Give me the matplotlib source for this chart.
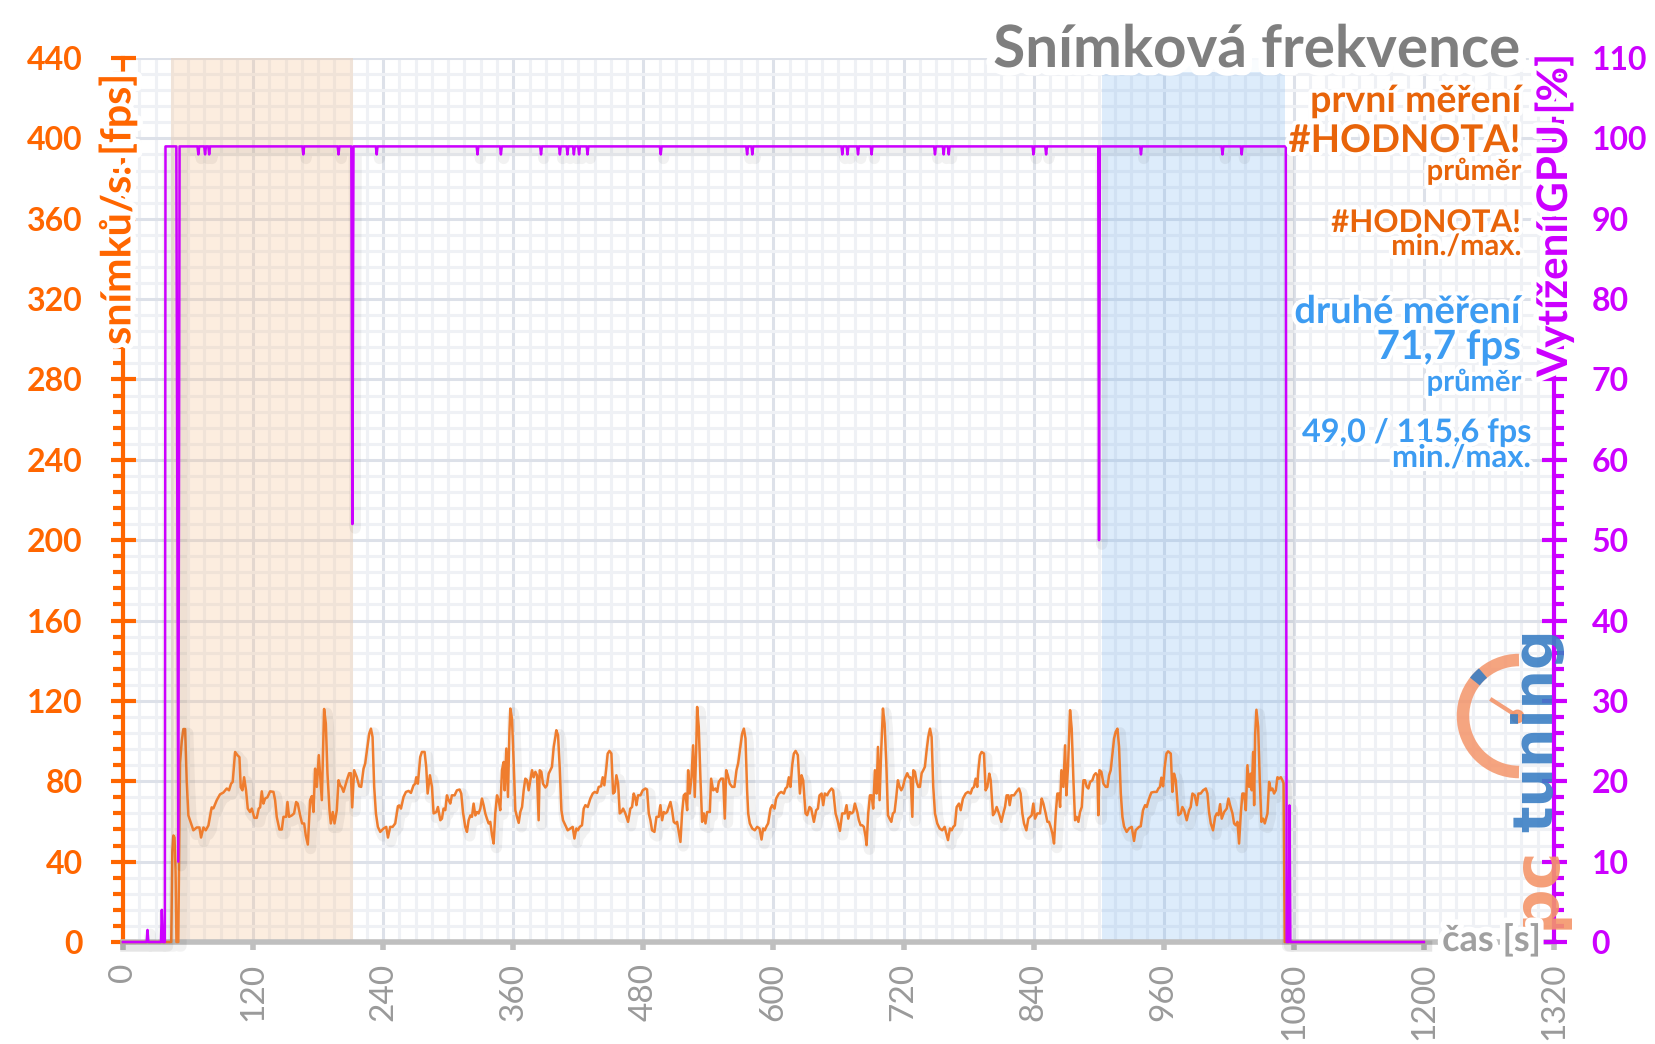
import matplotlib
matplotlib.use('Agg')
import matplotlib.pyplot as plt
import matplotlib.patheffects as pe
from matplotlib.patches import Arc, Rectangle
from matplotlib.ticker import MultipleLocator
import numpy as np

plt.rcParams['font.family'] = ['Lato', 'DejaVu Sans']

# ── Canvas (pixels) ──
W, H = 1656, 1044
ORANGE_AX  = '#ff6600'
ORANGE_TXT = '#e8640a'
FPS_COL    = '#ef7d2e'
GPU_COL    = '#cc00ff'
BLUE_TXT   = '#3d9cf2'
GREY       = '#9a9a9a'

# ── Data: frame rate (time s, fps) ──
fps_t = [0, 44.5, 45.5, 46.5, 47.5, 48.5, 49.3, 51, 52.6, 54.2, 55.7, 57.3, 58.8, 60.3, 61.8, 64.9, 68, 70.5, 72, 74.2,
         76.3, 78.8, 81.8, 83.4, 86.5, 89.5, 92.6, 95.7, 97.8, 99.7, 101.2, 103.4, 105.5, 107.4, 108.6, 110.2, 111.7,
         113.5, 115.1, 117.2, 118.8, 121.2, 123.4, 125.2, 126.5, 128, 129.5, 131.1, 133.2, 135.7, 138.8, 140.3, 141.8,
         144.3, 146.5, 148, 150.5, 151.7, 153.2, 155.7, 157.8, 159.7, 161.2, 163.4, 165.2, 167.1, 168.6, 170.5, 172.6,
         174.2, 175.7, 177.2, 178.8, 180.6, 183.4, 185.5, 187.1, 188.6, 190.5, 191.7, 193.5, 195.1, 197.2, 198.8, 200.3,
         201.8, 203.4, 206.5, 208.6, 210.2, 211.4, 213.2,
         215.7, 217.9, 219.7, 221.9, 223.4, 225, 227.1, 228.7, 230.2, 231.7, 233.3, 235.1, 237.3, 240.4, 242.8, 244.4,
         246.5, 248.7, 251.1, 253.6, 254.8, 256.4, 258.8, 261, 263.4, 265.6, 268, 269.6, 270.5, 272, 274.2, 275.7, 278.2,
         279.7, 281, 283.1, 285, 286.5, 289, 290.5, 292.7, 294.2, 295.7, 297.3, 298.8, 300.4, 301.9, 303.4, 305.9, 308,
         310.5, 312, 313.6, 315.7, 317.3, 318.8, 320.4, 321.9, 323.4, 325, 326.5, 328, 329.6, 331.1, 332.7, 334.2, 335.7,
         337.3, 338.8, 340.4, 341.9, 343.4, 345, 346.5, 348, 349.6, 351.1, 352, 353.6, 355.1, 356.4, 357.3, 358.8, 360.4,
         361.9, 363.4, 365, 366.5, 368.1, 369.6, 371.1, 372.7, 374.2, 375.7, 377.3, 378.8, 380.4, 381.9, 383.4, 384.4,
         385.9, 387.4, 389.6, 391.1, 392.7, 394.2, 395.7, 397.3, 398.8,
         399.7, 401.3, 402.8, 404.4, 405.9, 408, 410.2, 412.7, 414.8, 416.4, 418.2, 419.7, 421.3, 423.4, 425, 426.5,
         428.7, 431.1, 433.3, 435.1, 437.3, 438.8, 441, 442.5, 444, 445.6, 447.1, 448.7, 450.5, 452.1, 453.6, 455.1,
         456.7, 458.2, 459.7, 461.3, 463.4, 465.9, 468, 469.6, 471.1, 472.7, 473.6, 475.1, 477.3, 479.4, 481.9, 483.4,
         485, 486.5, 488, 490.2, 492.1, 494.2, 495.7, 497.3, 498.8, 500.4, 501.9, 503.4, 505, 506.5, 508, 509.6, 511.1,
         512.7, 514.2, 515.7, 517.3, 518.8, 520.4, 521.3, 522.8, 524.4, 525.9, 527.4, 528.7, 529.6, 531.1, 532.7, 534.2,
         535.7, 537.3, 538.8, 541.3, 542.5, 544.4, 546.5, 548.1, 549.6, 551.7, 553.6, 555.1, 556.4, 557.9, 559.7, 561.9,
         564, 565.9, 567.4, 569, 571.1, 572.7, 574.2, 575.7,
         576.7, 578.2, 580.4, 582.8, 585, 587.1, 589, 590.5, 592, 593.6, 595.1, 597.3, 598.8, 601, 602.5, 605, 607.1,
         609.6, 611.1, 612.7, 614.2, 615.7, 617.3, 618.8, 620.4, 622.5, 624.4, 625.9, 627.4, 629.6, 631.1, 633.3, 634.8,
         637.3, 639.4, 641, 642.5, 644.4, 645.9, 647.4, 649.6, 651.1, 653.6, 655.1, 657.3, 659.1, 661.3, 663.4, 665.9,
         667.4, 669, 670.5, 672.1, 673.6, 675.1, 677.3, 678.8, 680.4, 681.9, 683.4, 685, 685.9, 687.4, 689, 690.5, 692,
         693.6, 695.1, 696.4, 697.9, 699.4, 701, 702.5, 704.1, 705.6, 707.1, 708.7, 710.2, 711.7, 713.3, 714.8, 716.4,
         717.9, 719.4, 721.3, 723.4, 725, 726.5, 728.1, 729, 730.5, 732.1, 733.6, 735.1, 736.7, 738.2, 739.7, 741.3,
         742.8, 744.4, 745.9, 747.4, 749, 751.1, 753.3, 755.7, 757.9,
         761, 762.8, 764.4, 765.9, 767.4, 769, 771.1, 772.7, 774.8, 777.3, 779.4, 781.9, 783.4, 785, 786.5, 788, 789,
         790.5, 792, 794.2, 795.7, 797.3, 799.1, 800.4, 802.5, 804.4, 805.9, 808, 810.2, 812, 813.6, 815.1, 816.7, 817.9,
         819.4, 821.9, 824, 826.5, 828, 829.6, 831.1, 833.3, 835.1, 836.7, 838.2, 839.7, 841.3, 843.4, 845.9, 847.4, 849,
         851.1, 852.7, 854.2, 855.7, 857.3, 858.8, 860.4, 861.9, 863.4, 864.4, 865.6, 867.4, 869, 870.2, 871.7, 873.6,
         875.1, 876.7, 878.2, 879.7, 881.3, 882.8, 884.4, 885.9, 887.4, 889, 890.5, 892.1, 894.2, 895.7, 897.3, 898.8,
         899.7, 900.7, 902.5, 904.4, 906.5, 908.1, 909.6, 911.1, 912.7, 914.2, 915.7, 917.3, 918.8, 920.4, 921.9,
         923.4, 925.8, 928, 930.5, 932.6, 934.1, 935.7, 937.2, 938.8, 940.9, 942.8, 944.3, 946.5, 948.6, 951.1, 953.5,
         955.1, 956.6, 957.8, 959.4, 960.9, 962.5, 964, 966.5, 968, 969.5, 971.1, 973.5, 975.7, 977.2, 978.8, 981.2,
         983.4, 984.9, 986.5, 988.6, 990.5, 992, 994.1, 996.3, 998.8, 1000.3, 1001.8, 1003.4, 1005.5, 1007.4, 1008.9,
         1010.5, 1012, 1013.5, 1015.7, 1018.1, 1019.7, 1021.2, 1023.4, 1024.9, 1026.5, 1028, 1029.5, 1031.1, 1032.6,
         1034.1, 1035.7, 1037.2, 1038.8, 1040.3, 1041.2, 1042.5, 1043.4, 1044.3, 1045.5, 1047.1, 1048.6, 1050.1, 1051.7,
         1053.2, 1054.8, 1055.7, 1057.2, 1058.8, 1060.3, 1061.8, 1063.4, 1064.9, 1066.5, 1068, 1069.5, 1070.5, 1071.6,
         1200]
fps_v = [0, 0, 45, 53, 52, 35, 0, 0, 89, 100, 106, 106, 80, 63, 60.6, 55.6, 57, 57, 52, 57,
         55.6, 58, 67, 66.5, 70.6, 73.5, 74.4, 76.4, 75.5, 78.8, 79.7, 94.6, 93, 92, 77, 75.5, 82,
         75.5, 66.4, 64.7, 66.4, 61.8, 61.8, 66.4, 67, 75, 68.9, 71.4, 72, 75, 74.7, 70.6, 62.3,
         56, 56, 62.3, 62.3, 69.7, 62.3, 63, 64, 69.7, 68.9, 63, 59, 59, 53, 48.5, 70.6,
         72.6, 64.7, 86.3, 77.2, 93, 70.6, 116, 108.7, 84, 65.5, 59, 64.7, 59, 65.5, 80.5, 78,
         77, 74.7, 80.5, 84, 84, 67, 85.5,
         82, 77.5, 77.2, 86.3, 88.8, 95.4, 103.7, 106.2, 102, 77.2, 64, 57.3, 54.8, 56.5, 57.3, 52,
         57.3, 57.3, 59, 67.6, 68, 66.4, 72.2, 74.7, 75.2, 74.2, 78, 78.8, 82, 78.8, 92.1, 94.6, 94.6,
         87.2, 73.9, 83, 77.2, 64, 64.7, 67.2, 60.6, 61.4, 66.4, 65.6, 73, 70.6, 68.9, 73, 73, 75.5,
         75.9, 73.9, 64.7, 57.3, 54.8, 60.6, 63, 62.3, 68.9, 63, 64.7, 64, 66.4, 71.4, 68, 64, 61.4,
         59, 59.8, 53.1, 49, 64, 73, 70.6, 65.6, 85.5, 89.6, 75.5, 96.3, 72.2, 103.7, 116.2, 111.2, 88.8,
         65.6, 62.3, 59.3, 64.7, 67.2, 75.5, 81.3, 80.5, 75.5, 80.5, 85.5, 82, 84.7, 83, 60.6, 85.5,
         84.7, 78.8, 76.9, 78, 83.8, 85.5, 87.2, 97.1, 102,
         105.4, 102.9, 87.2, 65.6, 60.6, 58.1, 55.6, 56.5, 57.3, 51.5, 56.5, 55.6, 57.3, 58.1, 66.4, 68.1,
         67.2, 71.4, 73.9, 74.7, 74.2, 77.2, 77.5, 82, 78, 85.5, 93.8, 95.1, 93.8, 73.9, 74.7, 83,
         78.8, 64, 64.7, 66.4, 64, 59.8, 66.4, 67.2, 73.9, 71.4, 68.1, 73, 73, 75.5, 76.4, 75.9,
         64, 60.6, 55.6, 54.8, 62.3, 62.3, 68.1, 60.6, 64.7, 64, 64.7, 67.2, 69.7, 65.6, 59.8, 59, 59.8,
         54.8, 49.8, 64, 73, 73.9, 65.6, 85.5, 73.9, 82, 97.9, 72.2, 94.6, 117, 107.1, 80.5, 59.8,
         64, 59, 64.7, 64.7, 81.3, 75.5, 76.4, 74.7, 79.7, 81.3, 81.3, 61.4, 85.5, 83, 78.8, 77.2,
         77.2, 85.5, 88.8, 95.4, 103.7, 106.2, 101.3, 75.5,
         64, 59, 56.5, 55.6, 57.3, 56.5, 51, 56.5, 55.6, 57.6, 59, 66.4, 68.1, 66.4, 71.4, 73.9, 74.7,
         73.9, 76.4, 77.2, 82, 77.2, 88, 93.8, 95.1, 93, 73.9, 83, 80.5, 64, 63.1, 67.2, 66.4,
         59.8, 65.6, 66.4, 73, 73.9, 68.1, 73.9, 73, 74.7, 76.4, 75.5, 64, 60.6, 55.3, 64, 64,
         68.1, 61.4, 64.7, 64, 64.7, 68.9, 64.7, 60.6, 58.1, 58.1, 57.3, 52.3, 48.2, 64, 73, 73, 66.4,
         85.5, 73.9, 97.1, 70.6, 95.4, 116.2, 108.7, 88.8, 63.1, 61.4, 59.8, 64, 64.7, 72.2, 80.5, 77.2,
         75.5, 77.2, 81.3, 84, 82, 82, 62.3, 85.5, 84.7, 79.7, 77.2, 77.2, 84, 85.5, 87.2, 95.4,
         102, 106.2, 102, 77.2, 64, 59, 56.5, 55.6, 57.3,
         50.7, 56.5, 55.6, 57.3, 58.1, 67.2, 68.9, 65.6, 71.4, 73.9, 74.7, 73.9, 76.4, 77.2, 81.3, 77.2, 85.5,
         93, 94.6, 93.8, 75.5, 77.2, 83.8, 80.5, 63.1, 64.7, 67.2, 64, 59.8, 64, 67.2, 73, 73, 68.1,
         73, 73, 74.7, 76.4, 73.9, 64, 59, 55.6, 61.4, 62.3, 63.1, 68.9, 61.4, 64, 64, 71.4, 68.9,
         64, 59.8, 59.8, 57.3, 54, 49, 64, 73.9, 73.9, 67.2, 85.5, 77.2, 97.9, 73, 87.2, 115.4,
         106.2, 80.5, 60.6, 62.3, 59.8, 64.7, 67.2, 80.5, 80.5, 77.2, 76.4, 79.7, 80.5, 83, 84, 83,
         63.1, 85.5, 84.7, 78.8, 77.2, 77.2, 83, 85.5, 93.8, 101.3, 104.6, 106.2, 97.1, 73.9, 62.3,
         57.5, 54.8, 56.5, 57.3, 50.3, 55.6, 56.5, 57.3, 57.6, 65.6, 68.1, 67.2, 71.4, 74.4, 74.7, 74.7,
         76.4, 77.2, 81.8, 77.5, 87.2, 93.8, 94.9, 93.8, 74.7, 83.8, 80.5, 63.1, 64, 67.2, 65.6, 60.6,
         65.6, 67.2, 73.9, 73, 68.1, 73.9, 73.9, 75.5, 76.4, 73.9, 64.7, 59, 55.6, 62.3, 64,
         63.1, 68.6, 61.4, 64.7, 66.4, 71.4, 68.1, 64, 59, 58.1, 59.8, 49.0, 64, 73.9,
         73.9, 65.6, 88, 77.2, 83.8, 75.5, 94.6, 68.1, 102.9, 115.6, 107.1, 80.5, 59.8, 61.4,
         59, 62.3, 64, 79.7, 75.5, 76.4, 73.9, 75.5, 82, 81.3, 82, 80.5, 79, 0,
         0]

# ── Data: GPU load (time s, %) ──
gpu_t = [0, 21.8, 22.6, 23.4, 35.0, 35.8, 36.8, 38.6, 39.2, 49.2, 51.0, 52.2,
         68.7, 69.5, 70.3, 74.9, 75.7, 76.5, 78.7, 79.5, 80.3, 165.5, 166.3, 167.1, 198.0, 198.8, 199.6,
         210.6, 211.6, 212.6, 233.2, 234.0, 234.8, 326.2, 327.0, 327.8, 347.8, 348.6, 349.4, 384.8, 385.6, 386.4,
         402.2, 403.0, 403.8, 409.2, 410.0, 410.8, 415.1, 415.9, 416.7, 419.9, 420.7, 421.5, 427.7, 428.5, 429.3,
         495.2, 496.0, 496.8, 574.9, 575.7, 576.5, 579.7, 580.5, 581.3, 662.7, 663.5, 664.3, 667.5, 668.3, 669.1,
         677.2, 678.0, 678.8, 689.7, 690.5, 691.3, 748.2, 749.0, 749.8, 756.2, 757.0, 757.8, 760.9, 761.7, 762.5,
         839.0, 839.8, 840.6, 850.7, 851.5, 852.3, 899.6, 900.3, 901.1, 938.2, 939.0, 939.8,
         1013.4, 1014.2, 1015.0, 1031.1, 1031.9, 1032.7, 1072.6, 1073.4, 1075.4, 1076.0, 1076.8, 1200]
gpu_v = [0, 0, 1.5, 0, 0, 4, 0, 0, 99, 99, 10, 99,
         99, 98, 99, 99, 98, 99, 99, 98, 99, 99, 98, 99, 99, 98, 99,
         99, 52, 99, 99, 98, 99, 99, 98, 99, 99, 98, 99, 99, 98, 99,
         99, 98, 99, 99, 98, 99, 99, 98, 99, 99, 98, 99, 99, 98, 99,
         99, 98, 99, 99, 98, 99, 99, 98, 99, 99, 98, 99, 99, 98, 99,
         99, 98, 99, 99, 98, 99, 99, 98, 99, 99, 98, 99, 99, 98, 99,
         99, 98, 99, 99, 98, 99, 99, 50, 99, 99, 98, 99,
         99, 98, 99, 99, 98, 99, 99, 0, 0, 17, 0, 0]

# ── Measurement windows (s) ──
RUN1 = (44, 212)
RUN2 = (903, 1072)

# ── Legend texts: (text, size, baseline px[, right edge px]) ──
run1_lines = [('první měření', 27, 112), ('#HODNOTA!', 27.5, 152), ('průměr', 21, 180),
              ('#HODNOTA!', 22.5, 232), ('min./max.', 21, 255)]
run2_lines = [('druhé měření', 27.4, 323, 1521), ('71,7 fps', 29, 359, 1521), ('průměr', 21, 391, 1521),
              ('49,0 / 115,6 fps', 23.3, 442, 1531), ('min./max.', 22.4, 467, 1531)]


def fx(px):
    return px / W


def fy(py):
    return 1 - py / H


halo = lambda w: [pe.withStroke(linewidth=w, foreground='white')]

# ── FIGURE ──
fig = plt.figure(figsize=(W / 100, H / 100), dpi=100, facecolor='white')
X0, X1, Y0, Y1 = 123, 1554, 942, 58
ax = fig.add_axes([fx(X0), fy(Y0), (X1 - X0) / W, (Y0 - Y1) / H])
ax.set_xlim(0, 1320)
ax.set_ylim(0, 440)

ax.xaxis.set_major_locator(MultipleLocator(120))
ax.xaxis.set_minor_locator(MultipleLocator(15))
ax.yaxis.set_major_locator(MultipleLocator(40))
ax.yaxis.set_minor_locator(MultipleLocator(8))
ax.set_axisbelow(True)
ax.grid(which='minor', color='#eff1f5', linewidth=2.2)
ax.grid(which='major', color='#dde1e9', linewidth=2.2)

ax.axvspan(*RUN1, color=(245 / 255, 190 / 255, 140 / 255), alpha=0.27, lw=0, zorder=1)
ax.axvspan(*RUN2, color=(120 / 255, 180 / 255, 240 / 255), alpha=0.25, lw=0, zorder=1)

shadow = [pe.SimpleLineShadow(offset=(2, -3), shadow_color='black', alpha=0.05, linewidth=8), pe.Normal()]
ax.plot(fps_t, fps_v, color=FPS_COL, linewidth=1.8, zorder=3, clip_on=False, path_effects=shadow)

for s in ('top', 'right'):
    ax.spines[s].set_visible(False)
ax.spines['left'].set_color(ORANGE_AX)
ax.spines['left'].set_linewidth(3)
ax.spines['bottom'].set_color('#bfbfbf')
ax.spines['bottom'].set_linewidth(4)

ax.tick_params(axis='y', which='major', direction='inout', length=18, width=3,
               color=ORANGE_AX, labelcolor=ORANGE_AX, labelsize=23, pad=20)
ax.tick_params(axis='y', which='minor', direction='out', length=7, width=3, color=ORANGE_AX)
ax.tick_params(axis='x', which='major', direction='out', length=6, width=4, color='#bfbfbf',
               labelcolor=GREY, labelsize=24, labelrotation=90, pad=9)
ax.tick_params(axis='x', which='minor', length=0)
for lbl in ax.get_yticklabels():
    lbl.set_fontweight('bold')

# ── GPU axis ──
ax2 = ax.twinx()
ax2.set_ylim(0, 110)
ax2.yaxis.set_major_locator(MultipleLocator(10))
ax2.yaxis.set_minor_locator(MultipleLocator(2))
for s in ('top', 'left', 'bottom'):
    ax2.spines[s].set_visible(False)
ax2.spines['right'].set_color(GPU_COL)
ax2.spines['right'].set_linewidth(3)
ax2.tick_params(axis='y', which='major', direction='inout', length=18, width=3,
                color=GPU_COL, labelcolor=GPU_COL, labelsize=23, pad=18)
ax2.tick_params(axis='y', which='minor', direction='out', length=7, width=3, color=GPU_COL)
for lbl in ax2.get_yticklabels():
    lbl.set_fontweight('bold')
ax2.plot(gpu_t, gpu_v, color=GPU_COL, linewidth=1.8, zorder=3, clip_on=False, path_effects=shadow)

# ── Overlay: title glow band + logo (pctuning) ──
ov = fig.add_axes([0, 0, 1, 1])
ov.set_xlim(0, W)
ov.set_ylim(H, 0)
ov.axis('off')
ov.add_patch(Rectangle((990, 40), 536, 32, facecolor='white', edgecolor='none', alpha=0.85))
ov.add_patch(Arc((1519, 716), 112, 112, theta1=90, theta2=270, lw=9, color='#f4956a', alpha=0.85))
ov.add_patch(Arc((1519, 716), 112, 112, theta1=218, theta2=230, lw=9, color='#3b7fc4', alpha=0.9))
ov.plot([1492, 1517], [700, 716], color='#f4956a', lw=3, alpha=0.9)
ov.plot([1517], [716], 'o', ms=9, color='#f4956a', alpha=0.9)
fig.text(fx(1537), fy(628), 'tuning', rotation=90, ha='center', va='top', color='#3b7fc4',
         fontsize=40, fontweight='bold', family='DejaVu Sans', alpha=0.9)
fig.text(fx(1537), fy(929), 'pc', rotation=90, ha='center', va='bottom', color='#f4956a',
         fontsize=46, fontweight='bold', family='DejaVu Sans', alpha=0.9)

# ── Axis titles ──
fig.text(fx(118), fy(74), 'snímků/s. [fps]', rotation=90, ha='center', va='top', color=ORANGE_AX,
         fontsize=29.7, fontweight='bold', path_effects=halo(8))
fig.text(fx(1554), fy(53), 'Vytížení GPU [%]', rotation=90, ha='center', va='top', color=GPU_COL,
         fontsize=30.3, fontweight='bold', path_effects=halo(8))
fig.text(fx(1541), fy(940), 'čas [s]', ha='right', va='center', color='#a0a0a0',
         fontsize=26, fontweight='bold', path_effects=halo(8))

# ── Title + legend texts ──
fig.text(fx(1521), fy(67), 'Snímková frekvence', ha='right', va='baseline', color='#7f7f7f',
         fontsize=42, fontweight='bold', path_effects=halo(12))
for txt, size, base in run1_lines:
    fig.text(fx(1521), fy(base), txt, ha='right', va='baseline', color=ORANGE_TXT,
             fontsize=size, fontweight='bold', path_effects=halo(6))
for txt, size, base, right in run2_lines:
    fig.text(fx(right), fy(base), txt, ha='right', va='baseline', color=BLUE_TXT,
             fontsize=size, fontweight='bold', path_effects=halo(6))

fig.savefig('out.png', dpi=100, facecolor='white')
print("Saved: out.png")
